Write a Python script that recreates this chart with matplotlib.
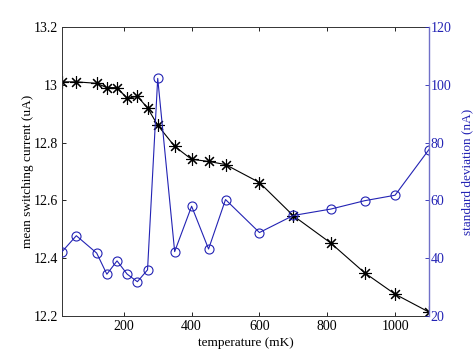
import matplotlib
matplotlib.use("Agg")
import matplotlib.pyplot as plt

plt.rcParams['font.family'] = ['Liberation Serif', 'DejaVu Serif']

# temperature (mK)
temps = [18, 60, 120, 150, 180, 210, 240, 270, 300, 350, 400, 450, 500,
         600, 700, 810, 910, 1000, 1100]
# mean switching current (uA)
mean_current = [13.01, 13.01, 13.005, 12.99, 12.99, 12.953, 12.96, 12.92, 12.86,
                12.787, 12.742, 12.735, 12.724, 12.662, 12.547, 12.453, 12.35,
                12.276, 12.214]
# standard deviation (nA)
std_dev = [42.3, 47.8, 41.8, 34.5, 39.1, 34.5, 31.9, 36.0, 102.2, 42.3, 58.0,
           43.2, 60.3, 48.9, 54.8, 57.0, 59.9, 61.8, 77.6]

left_ticks = [12.2, 12.4, 12.6, 12.8, 13, 13.2]
right_ticks = [20, 40, 60, 80, 100, 120]
x_ticks = [200, 400, 600, 800, 1000]

blue = "#2323b4"

fig = plt.figure(figsize=(4.74, 3.54), dpi=100)
ax = fig.add_axes([0.131, 0.107, 0.774, 0.817])

ax.plot(temps, mean_current, color="black", lw=0.8,
        marker=(8, 2, 0), ms=9, mew=0.8, mec="black")
ax.set_xlim(18, 1100)
ax.set_ylim(12.2, 13.2)
ax.set_xticks(x_ticks)
ax.set_yticks(left_ticks)
ax.set_yticklabels(["12.2", "12.4", "12.6", "12.8", "13", "13.2"])
ax.tick_params(direction="in", labelsize=10, length=3, width=0.6,
               top=True, pad=3)
ax.set_xlabel("temperature (mK)", fontsize=9.5, labelpad=3)
ax.set_ylabel("mean switching current (uA)", fontsize=9.5, labelpad=0)
for side in ["left", "bottom", "top"]:
    ax.spines[side].set_linewidth(0.7)
    ax.spines[side].set_color("#333333")
ax.spines["right"].set_visible(False)

ax2 = ax.twinx()
ax2.plot(temps, std_dev, color=blue, lw=0.8,
         marker="o", ms=6.5, mfc="none", mec=blue, mew=0.8)
ax2.set_ylim(20, 120)
ax2.set_yticks(right_ticks)
ax2.tick_params(direction="in", labelsize=10, length=3, width=0.6,
                colors=blue, pad=1)
ax2.set_ylabel("standard deviation (nA)", fontsize=9.5, color=blue, labelpad=7)
for side in ["left", "bottom", "top"]:
    ax2.spines[side].set_visible(False)
ax2.spines["right"].set_color("#7070c8")
ax2.spines["right"].set_linewidth(1.0)

fig.savefig("out.png", dpi=100)
